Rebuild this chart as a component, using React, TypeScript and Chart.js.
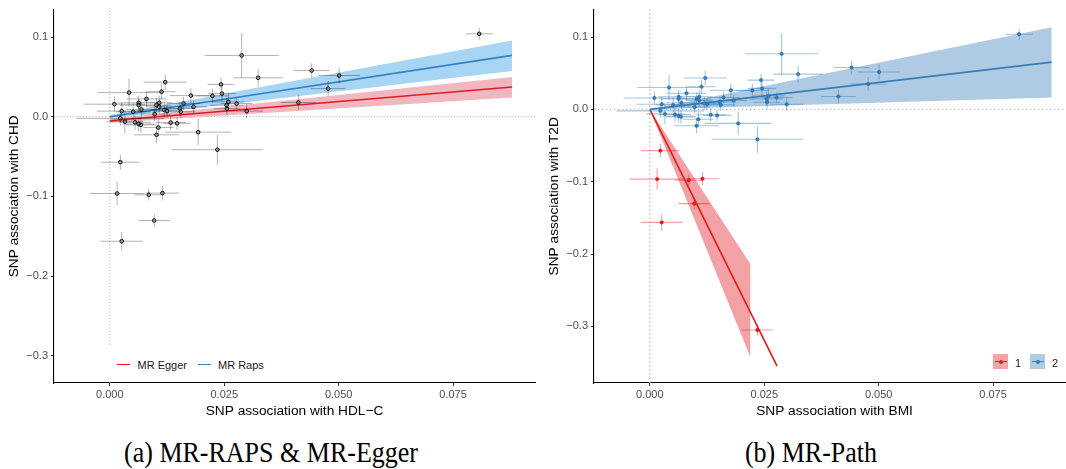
import React, { useEffect, useRef } from "react";
import { Chart, registerables } from "chart.js";

Chart.register(...registerables);

const SANS = "'Liberation Sans', Arial, Helvetica, sans-serif";
const SERIF = "'Liberation Serif', 'Times New Roman', Times, serif";

// SNP-exposure associations (x), SNP-outcome associations (y), their standard errors, and MR-Path cluster
const snpX = [
  0.0288, 0.0324, 0.0441, 0.0501, 0.0477, 0.0412, 0.0299, 0.0277, 0.0259, 0.0255,
  0.0256, 0.0245, 0.0243, 0.0224, 0.0177, 0.0183, 0.0161, 0.0153, 0.0155, 0.0147,
  0.0133, 0.0193, 0.0235, 0.0121, 0.0113, 0.0080, 0.0042, 0.0010, 0.0026, 0.0051,
  0.0063, 0.0063, 0.0069, 0.0098, 0.0102, 0.0108, 0.0108, 0.0119, 0.0125, 0.0023,
  0.0033, 0.0055, 0.0063, 0.0068, 0.0106, 0.0102, 0.0807,
  0.0023, 0.0016, 0.0085, 0.0115, 0.0097, 0.0026,
];
const snpY = [
  0.0769, 0.0488, 0.0579, 0.0517, 0.0352, 0.0178, 0.0070, 0.0165, 0.0186, 0.0145,
  0.0099, 0.0290, 0.0405, 0.0261, 0.0265, 0.0124, 0.0165, 0.0103, 0.0062, -0.0083,
  -0.0074, -0.0194, -0.0414, 0.0434, 0.0314, 0.0223, 0.0302, 0.0157, 0.0070, 0.0062,
  0.0174, 0.0145, 0.0091, 0.0033, 0.0145, 0.0174, 0.0124, 0.0083, 0.0070, -0.0021,
  -0.0062, -0.0070, -0.0091, -0.0103, -0.0136, -0.0227, 0.1040,
  -0.0571, -0.0964, -0.0980, -0.0959, -0.1303, -0.1563,
];
const seX = [
  0.0081, 0.0054, 0.0039, 0.0046, 0.0038, 0.0038, 0.0036, 0.0035, 0.0035, 0.0036,
  0.0029, 0.0031, 0.0029, 0.0036, 0.0046, 0.0029, 0.0036, 0.0035, 0.0031, 0.0031,
  0.0033, 0.0073, 0.0100, 0.0047, 0.0031, 0.0044, 0.0069, 0.0067, 0.0055, 0.0038,
  0.0046, 0.0042, 0.0033, 0.0033, 0.0031, 0.0029, 0.0029, 0.0033, 0.0031, 0.0096,
  0.0040, 0.0035, 0.0035, 0.0033, 0.0033, 0.0049, 0.0030,
  0.0042, 0.0060, 0.0031, 0.0036, 0.0034, 0.0046,
];
const seY = [
  0.0283, 0.0114, 0.0091, 0.0103, 0.0095, 0.0093, 0.0093, 0.0072, 0.0103, 0.0093,
  0.0087, 0.0103, 0.0083, 0.0093, 0.0093, 0.0083, 0.0083, 0.0083, 0.0083, 0.0083,
  0.0093, 0.0165, 0.0186, 0.0099, 0.0099, 0.0099, 0.0176, 0.0093, 0.0103, 0.0103,
  0.0093, 0.0083, 0.0093, 0.0093, 0.0089, 0.0087, 0.0083, 0.0093, 0.0083, 0.0093,
  0.0145, 0.0093, 0.0093, 0.0093, 0.0103, 0.0103, 0.0075,
  0.0093, 0.0145, 0.0072, 0.0093, 0.0083, 0.0114,
];
const pathGroup = [
  2, 2, 2, 2, 2, 2, 2, 2, 2, 2,
  2, 2, 2, 2, 2, 2, 2, 2, 2, 2,
  2, 2, 2, 2, 2, 2, 2, 2, 2, 2,
  2, 2, 2, 2, 2, 2, 2, 2, 2, 2,
  2, 2, 2, 2, 2, 2, 2,
  1, 1, 1, 1, 1, 1,
];

// extra SNP present only in the MR-Path (BMI -> T2D) panel
const extraX = [0.0235];
const extraY = [-0.305];
const extraSeX = [0.0034];
const extraSeY = [0.008];
const extraGroup = [1];

// axes
const xTicks = [0, 0.025, 0.05, 0.075];
const xTickLabels = ["0.000", "0.025", "0.050", "0.075"];
const yTicks = [-0.3, -0.2, -0.1, 0, 0.1];
const yTickLabels = ["\u22120.3", "\u22120.2", "\u22120.1", "0.0", "0.1"];
const xRange = [-0.0122, 0.0929];
const chdRange = [-0.3342, 0.1344];
const t2dRange = [-0.3784, 0.138];

// panel (a) fitted lines and confidence bands
const fitX = [0, 0.0879];
const eggerFit = [-0.005, 0.0373];
const eggerLow = [-0.0075, 0.024];
const eggerHigh = [-0.0025, 0.0497];
const rapsFit = [0, 0.077];
const rapsLow = [-0.002, 0.0575];
const rapsHigh = [0.002, 0.0956];

// panel (b) fitted lines and confidence bands
const path2X = [0, 0.0878];
const path2Fit = [0, 0.0653];
const path2Low = [0, 0.0164];
const path2High = [0, 0.1137];
const path1LineX = [0, 0.0278];
const path1Fit = [0, -0.355];
const path1BandX = [0, 0.022];
const path1Low = [0, -0.343];
const path1High = [0, -0.214];

const pts = (xs: number[], ys: number[]) => xs.map((x, i) => ({ x, y: ys[i] }));

const errorBars = {
  id: "errorBars",
  beforeDatasetDraw(chart: any, args: any) {
    const ds: any = chart.data.datasets[args.index];
    if (!ds.errX) return;
    const { ctx, chartArea: a, scales } = chart;
    const sx = scales.x;
    const sy = scales.y;
    ctx.save();
    ctx.beginPath();
    ctx.rect(a.left, a.top, a.right - a.left, a.bottom - a.top);
    ctx.clip();
    ctx.strokeStyle = ds.errColor;
    ctx.lineWidth = ds.errWidth;
    ds.data.forEach((p: any, i: number) => {
      const px = sx.getPixelForValue(p.x);
      const py = sy.getPixelForValue(p.y);
      ctx.beginPath();
      ctx.moveTo(sx.getPixelForValue(p.x - ds.errX[i]), py);
      ctx.lineTo(sx.getPixelForValue(p.x + ds.errX[i]), py);
      ctx.moveTo(px, sy.getPixelForValue(p.y - ds.errY[i]));
      ctx.lineTo(px, sy.getPixelForValue(p.y + ds.errY[i]));
      ctx.stroke();
    });
    ctx.restore();
  },
};

function makeScales(yRange: number[], xTitle: string, yTitle: string) {
  return {
    x: {
      type: "linear",
      min: xRange[0],
      max: xRange[1],
      afterBuildTicks: (s: any) => {
        s.ticks = xTicks.map((value) => ({ value }));
      },
      afterFit: (s: any) => {
        s.height = 42;
      },
      ticks: {
        callback: (_v: any, i: number) => xTickLabels[i],
        color: "#4d4d4d",
        font: { family: SANS, size: 11 },
        padding: 2,
        maxRotation: 0,
        autoSkip: false,
      },
      grid: { drawOnChartArea: false, drawTicks: true, tickLength: 3, color: "#333", lineWidth: 1 },
      border: { display: true, color: "#000", width: 1.1 },
      title: {
        display: true,
        text: xTitle,
        color: "#000",
        font: { family: SANS, size: 13.7 },
        padding: { top: 0, bottom: 5.8 },
      },
    },
    y: {
      type: "linear",
      min: yRange[0],
      max: yRange[1],
      afterBuildTicks: (s: any) => {
        s.ticks = yTicks.map((value) => ({ value }));
      },
      afterFit: (s: any) => {
        s.width = 54;
      },
      ticks: {
        callback: (_v: any, i: number) => yTickLabels[i],
        color: "#4d4d4d",
        font: { family: SANS, size: 11 },
        padding: 3,
        autoSkip: false,
      },
      grid: { drawOnChartArea: false, drawTicks: true, tickLength: 3, color: "#333", lineWidth: 1 },
      border: { display: true, color: "#000", width: 1.1 },
      title: {
        display: true,
        text: yTitle,
        color: "#000",
        font: { family: SANS, size: 13.7 },
        padding: { top: 5.8, bottom: 0 },
      },
    },
  };
}

const lineDs = (data: any[], color: string, width: number, order: number, extra: any = {}) => ({
  type: "line",
  data,
  borderColor: color,
  borderWidth: width,
  pointRadius: 0,
  fill: false,
  tension: 0,
  order,
  ...extra,
});

const baseOptions = (yRange: number[], xTitle: string, yTitle: string) => ({
  animation: false,
  responsive: false,
  devicePixelRatio: 1,
  events: [],
  layout: { padding: { top: 5, right: 5, left: 0, bottom: 0 } },
  plugins: { legend: { display: false }, tooltip: { enabled: false } },
  scales: makeScales(yRange, xTitle, yTitle),
});

function configA(): any {
  const datasets: any[] = [
    {
      type: "scatter",
      data: pts(snpX, snpY),
      errX: seX,
      errY: seY,
      errColor: "rgba(0,0,0,0.3)",
      errWidth: 1,
      pointRadius: 1.8,
      pointBorderWidth: 1,
      pointBorderColor: "#000",
      pointBackgroundColor: "rgba(150,150,150,0.5)",
      order: 0,
    },
    lineDs(pts(fitX, eggerFit), "#e41a1c", 1.6, 1),
    lineDs(pts(fitX, rapsFit), "#3383c6", 1.6, 1),
    lineDs(pts(fitX, eggerHigh), "transparent", 0, 2, { fill: 4, backgroundColor: "#f2b6c0" }),
    lineDs(pts(fitX, eggerLow), "transparent", 0, 2),
    lineDs(pts(fitX, rapsHigh), "transparent", 0, 2, { fill: 6, backgroundColor: "#a7d5f3" }),
    lineDs(pts(fitX, rapsLow), "transparent", 0, 2),
    lineDs(pts([0, 0], chdRange), "#a0a0a0", 1, 3, { borderDash: [1, 2.2] }),
    lineDs(pts(xRange, [0, 0]), "#a0a0a0", 1, 3, { borderDash: [1, 2.2] }),
  ];
  return {
    type: "scatter",
    data: { datasets },
    options: baseOptions(chdRange, "SNP association with HDL\u2212C", "SNP association with CHD"),
    plugins: [errorBars],
  };
}

function configB(): any {
  const allX = snpX.concat(extraX);
  const allY = snpY.concat(extraY);
  const allSeX = seX.concat(extraSeX);
  const allSeY = seY.concat(extraSeY);
  const allG = pathGroup.concat(extraGroup);
  const sel = (g: number) => allX.map((_, i) => i).filter((i) => allG[i] === g);
  const g1 = sel(1);
  const g2 = sel(2);
  const groupDs = (idx: number[], color: string, border: string, err: string) => ({
    type: "scatter",
    data: idx.map((i) => ({ x: allX[i], y: allY[i] })),
    errX: idx.map((i) => allSeX[i]),
    errY: idx.map((i) => allSeY[i]),
    errColor: err,
    errWidth: 1.1,
    pointRadius: 1.7,
    pointBorderWidth: 0.6,
    pointBorderColor: border,
    pointBackgroundColor: color,
    order: 0,
  });
  const datasets: any[] = [
    groupDs(g2, "#377eb8", "#2c6ca3", "rgba(55,126,184,0.45)"),
    groupDs(g1, "#e41a1c", "#c81416", "rgba(228,26,28,0.42)"),
    lineDs(pts(path2X, path2Fit), "#377eb8", 1.6, 1),
    lineDs(pts(path1LineX, path1Fit), "#e41a1c", 1.6, 1),
    lineDs(pts(path2X, path2High), "transparent", 0, 2, { fill: 5, backgroundColor: "#aecbe3" }),
    lineDs(pts(path2X, path2Low), "transparent", 0, 2),
    lineDs(pts(path1BandX, path1High), "transparent", 0, 2, { fill: 7, backgroundColor: "#f2a2a4" }),
    lineDs(pts(path1BandX, path1Low), "transparent", 0, 2),
    lineDs(pts([0, 0], t2dRange), "#bdbdbd", 1.3, 3, { borderDash: [1.4, 2.6] }),
    lineDs(pts(xRange, [0, 0]), "#bdbdbd", 1.3, 3, { borderDash: [1.4, 2.6] }),
  ];
  return {
    type: "scatter",
    data: { datasets },
    options: baseOptions(t2dRange, "SNP association with BMI", "SNP association with T2D"),
    plugins: [errorBars],
  };
}

const abs = (s: any) => ({ position: "absolute", ...s }) as React.CSSProperties;
const legendText: React.CSSProperties = {
  fontFamily: SANS,
  fontSize: 11,
  lineHeight: "14px",
  color: "#1a1a1a",
  whiteSpace: "nowrap",
};
const captionStyle: React.CSSProperties = {
  fontFamily: SERIF,
  fontSize: 26,
  lineHeight: "30px",
  color: "#000",
  textAlign: "center",
  width: 600,
  whiteSpace: "nowrap",
  transform: "scaleY(1.1)",
};

export default function App() {
  const c1 = useRef<HTMLCanvasElement>(null);
  const c2 = useRef<HTMLCanvasElement>(null);
  useEffect(() => {
    const a = new Chart(c1.current as HTMLCanvasElement, configA());
    const b = new Chart(c2.current as HTMLCanvasElement, configB());
    return () => {
      a.destroy();
      b.destroy();
    };
  }, []);
  return (
    <div style={abs({ left: 0, top: 0, width: 1066, height: 469, overflow: "hidden", background: "#fff" })}>
      <canvas ref={c1} width={540} height={425} style={abs({ left: 0, top: 0 })} />
      <canvas ref={c2} width={540} height={425} style={abs({ left: 540, top: 0 })} />

      {/* legend (a) */}
      <div style={abs({ left: 104, top: 347, width: 172, height: 34, background: "#fff" })} />
      <div style={abs({ left: 117, top: 363.5, width: 13, height: 1.6, background: "#e41a1c" })} />
      <div style={abs({ left: 137.5, top: 357.5, ...legendText })}>MR Egger</div>
      <div style={abs({ left: 198, top: 363.5, width: 13, height: 1.6, background: "#3383c6" })} />
      <div style={abs({ left: 218, top: 357.5, ...legendText })}>MR Raps</div>

      {/* legend (b) */}
      <div style={abs({ left: 993, top: 354, width: 15, height: 15, background: "#f4a6a7" })} />
      <div style={abs({ left: 995, top: 361, width: 12, height: 1.4, background: "#e41a1c" })} />
      <div style={abs({ left: 998.5, top: 360, width: 4, height: 4, borderRadius: 2, background: "#e41a1c" })} />
      <div style={abs({ left: 1015, top: 355.8, ...legendText })}>1</div>
      <div style={abs({ left: 1030, top: 354, width: 15, height: 15, background: "#aecbe3" })} />
      <div style={abs({ left: 1032, top: 361, width: 12, height: 1.4, background: "#377eb8" })} />
      <div style={abs({ left: 1035.5, top: 360, width: 4, height: 4, borderRadius: 2, background: "#377eb8" })} />
      <div style={abs({ left: 1052, top: 355.8, ...legendText })}>2</div>

      {/* captions */}
      <div style={abs({ left: 271 - 300, top: 438, ...captionStyle })}>(a) MR-RAPS &amp; MR-Egger</div>
      <div style={abs({ left: 811 - 300, top: 438, ...captionStyle })}>(b) MR-Path</div>
    </div>
  );
}
